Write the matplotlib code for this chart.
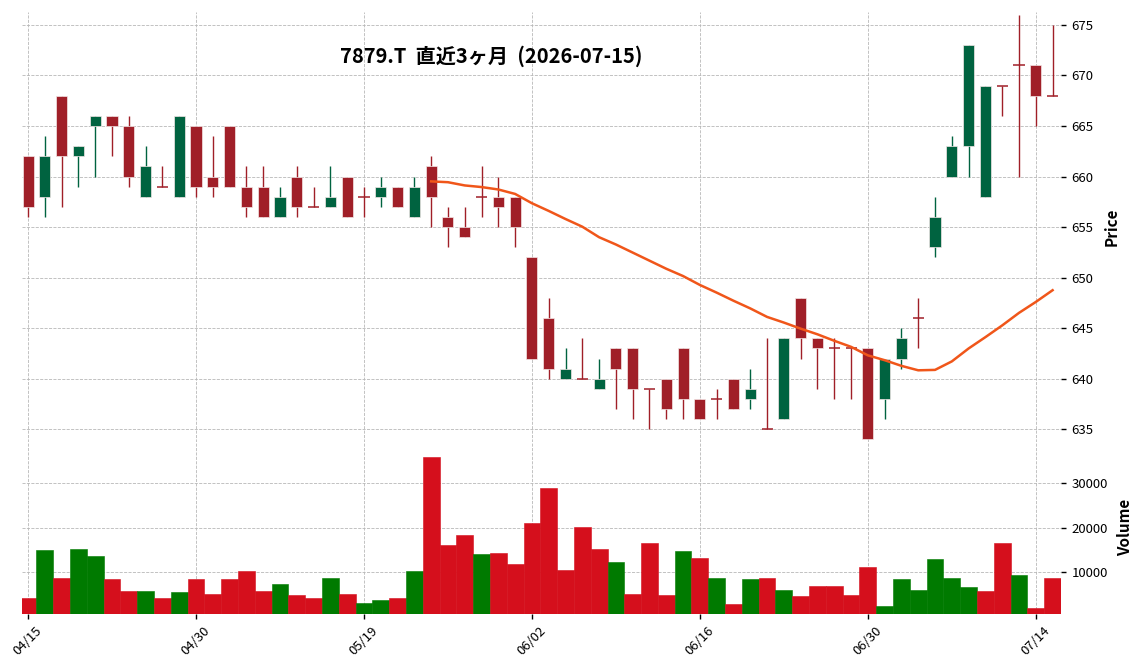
import matplotlib
matplotlib.use("Agg")
import matplotlib.pyplot as plt
import numpy as np

plt.rcParams['font.family'] = ['Noto Sans CJK JP', 'DejaVu Sans']

dates = ["04/15", "04/16", "04/17", "04/20", "04/21", "04/22", "04/23", "04/24", "04/27", "04/28",
         "04/30", "05/01", "05/07", "05/08", "05/11", "05/12", "05/13", "05/14", "05/15", "05/18",
         "05/19", "05/20", "05/21", "05/22", "05/25", "05/26", "05/27", "05/28", "05/29", "06/01",
         "06/02", "06/03", "06/04", "06/05", "06/08", "06/09", "06/10", "06/11", "06/12", "06/15",
         "06/16", "06/17", "06/18", "06/19", "06/22", "06/23", "06/24", "06/25", "06/26", "06/29",
         "06/30", "07/01", "07/02", "07/03", "07/06", "07/07", "07/08", "07/09", "07/10", "07/13",
         "07/14", "07/15"]

opens = [662, 658, 668, 662, 665, 666, 665, 658, 659, 658,
         665, 660, 665, 659, 659, 656, 660, 657, 657, 660,
         658, 658, 659, 656, 661, 656, 655, 658, 658, 658,
         652, 646, 640, 640, 639, 643, 643, 639, 640, 643,
         638, 638, 640, 638, 635, 636, 648, 644, 643, 643,
         643, 638, 642, 646, 653, 660, 663, 658, 669, 671,
         671, 668]
highs = [662, 664, 668, 663, 666, 666, 666, 663, 661, 666,
         665, 664, 665, 661, 661, 659, 661, 659, 661, 660,
         659, 660, 659, 660, 662, 657, 657, 661, 660, 658,
         652, 648, 643, 644, 642, 643, 643, 639, 640, 643,
         638, 639, 640, 641, 644, 644, 648, 644, 644, 643,
         643, 642, 645, 648, 658, 664, 673, 669, 669, 676,
         671, 675]
lows = [656, 656, 657, 659, 660, 662, 659, 658, 659, 658,
        658, 658, 659, 656, 656, 656, 656, 657, 657, 656,
        656, 657, 657, 656, 655, 653, 654, 656, 655, 653,
        642, 640, 640, 640, 639, 637, 636, 635, 636, 636,
        636, 636, 637, 637, 635, 636, 642, 639, 638, 638,
        634, 636, 641, 643, 652, 660, 660, 658, 666, 660,
        665, 668]
closes = [657, 662, 662, 663, 666, 665, 660, 661, 659, 666,
          659, 659, 659, 657, 656, 658, 657, 657, 658, 656,
          658, 659, 657, 659, 658, 655, 654, 658, 657, 655,
          642, 641, 641, 640, 640, 641, 639, 639, 637, 638,
          636, 638, 637, 639, 635, 644, 644, 643, 643, 643,
          634, 642, 644, 646, 656, 663, 673, 669, 669, 671,
          668, 668]
volumes = [4200, 15000, 8700, 15250, 13700, 8300, 5800, 5600, 4200, 5400,
           8300, 5100, 8300, 10300, 5600, 7200, 4700, 4200, 8700, 5100,
           2900, 3600, 4200, 10300, 35900, 16100, 18400, 14100, 14300, 11900,
           21100, 29000, 10500, 20100, 15200, 12300, 5100, 16500, 4900, 14800,
           13200, 8700, 2700, 8500, 8700, 6000, 4500, 6900, 6900, 4900,
           11200, 2400, 8300, 6000, 13000, 8700, 6500, 5600, 16500, 9400,
           1800, 8700]

title = "7879.T  直近3ヶ月  (2026-07-15)"
mav_period = 25

UP_C = "#006340"
DN_C = "#a01f28"
VUP_C = "#007a00"
VDN_C = "#d50f1c"
MA_C = "#f0561a"

o = np.array(opens, float)
h = np.array(highs, float)
l = np.array(lows, float)
c = np.array(closes, float)
v = np.array(volumes, float)
x = np.arange(len(c))

fig = plt.figure(figsize=(11.44, 6.70), dpi=100)
W, H = 1144.0, 670.0
ax_l, ax_r = 22 / W, 1061 / W
ax1 = fig.add_axes([ax_l, (H - 441.5) / H, ax_r - ax_l, (441.5 - 11.7) / H])
ax2 = fig.add_axes([ax_l, (H - 613.8) / H, ax_r - ax_l, (613.8 - 441.5) / H], sharex=ax1)

for ax in (ax1, ax2):
    for s in ax.spines.values():
        s.set_visible(False)
    ax.grid(True, linestyle='--', linewidth=0.6, color='#b8b8b8')
    ax.set_axisbelow(True)
    ax.yaxis.tick_right()
    ax.yaxis.set_label_position("right")
    ax.tick_params(axis='y', length=3.5, width=1, labelsize=9.5, pad=4)

# candles
bw = 0.66
up = c > o
body_col = [UP_C if u else DN_C for u in up]
ax1.vlines(x, l, h, colors=body_col, linewidth=1.0, zorder=2)
nz = o != c
ax1.bar(x[nz], np.abs(c - o)[nz], bottom=np.minimum(o, c)[nz], width=bw,
        color=np.array(body_col)[nz], edgecolor='#f3e6e6', linewidth=0.5, zorder=3)
dj = ~nz
ax1.hlines(o[dj], x[dj] - bw / 2, x[dj] + bw / 2, colors=DN_C, linewidth=1.1, zorder=3)

# moving average
ma = np.full(len(c), np.nan)
for i in range(mav_period - 1, len(c)):
    ma[i] = c[i - mav_period + 1:i + 1].mean()
ax1.plot(x, ma, color=MA_C, linewidth=1.8, zorder=4)

ax1.set_ylim(633.8, 676.3)
ax1.set_yticks([635, 640, 645, 650, 655, 660, 665, 670, 675])
ax1.set_xlim(-0.36, len(c) - 0.5)
ax1.set_ylabel("Price", fontsize=11, fontweight='bold', labelpad=7)
ax1.tick_params(axis='x', which='both', bottom=False, labelbottom=False)

# volume
prev = np.concatenate([[np.inf], c[:-1]])
vcol = [VUP_C if ci > pi else VDN_C for ci, pi in zip(c, prev)]
ax2.bar(x, v, width=1.0, color=vcol, edgecolor=vcol, linewidth=0.4, zorder=3)
ax2.set_ylim(0.3 * v.min(), 1.1 * v.max())
ax2.set_yticks([10000, 20000, 30000])
ax2.set_ylabel("Volume", fontsize=11, fontweight='bold', labelpad=7)
tick_idx = list(range(0, len(c), 10))
ax2.set_xticks(tick_idx)
ax2.set_xticklabels([dates[i] for i in tick_idx], rotation=45, ha='center', fontsize=9.5)
ax2.tick_params(axis='x', length=3.5, width=1, pad=4)

fig.text(491 / W, (H - 56) / H, title, ha='center', va='center',
         fontsize=14.5, fontweight='bold')

fig.savefig("out.png", dpi=100)
